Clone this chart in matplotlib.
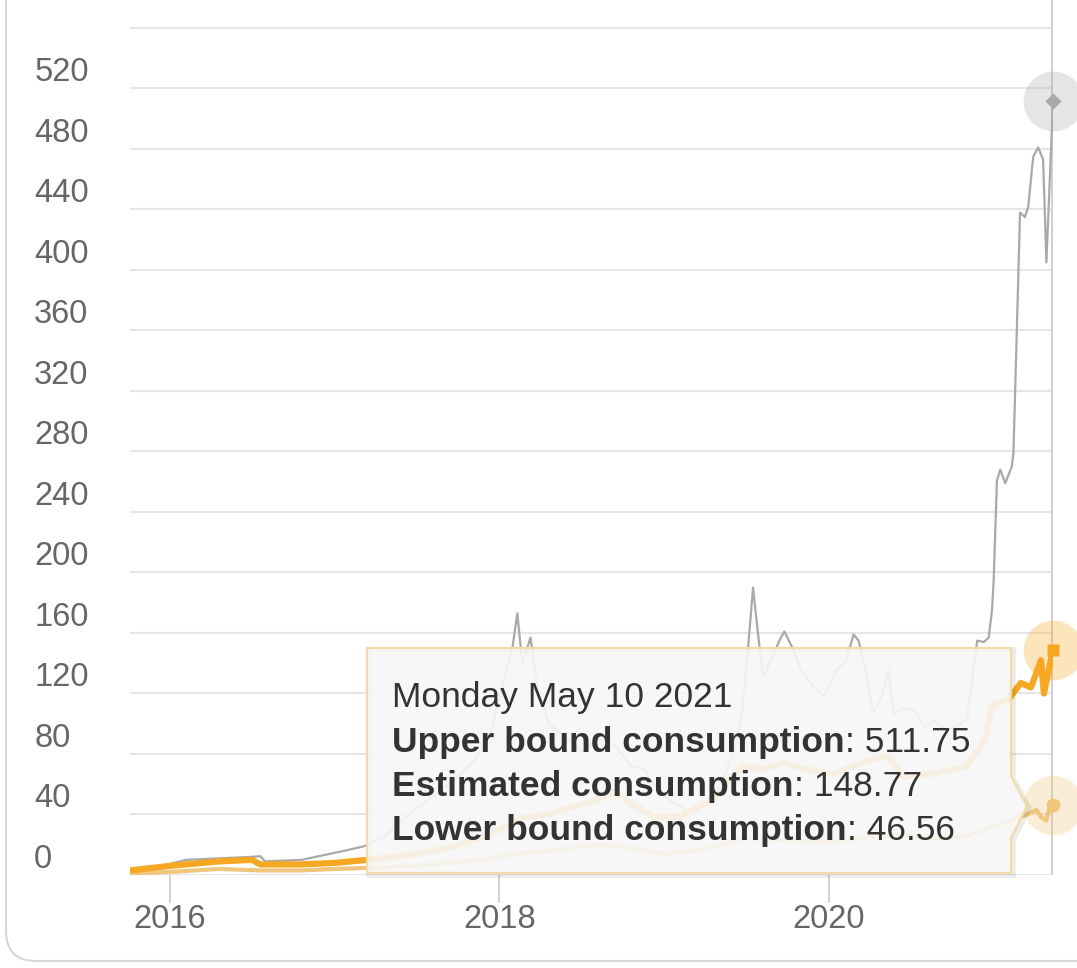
import matplotlib.pyplot as plt
from matplotlib.patches import Polygon, FancyBboxPatch
from matplotlib.transforms import IdentityTransform

# electricity consumption (TWh), dates as decimal years
upper_dates = [
    2015.76, 2015.95, 2016.10, 2016.30, 2016.50, 2016.55, 2016.58, 2016.80, 2017.06, 2017.18,
    2017.30, 2017.45, 2017.60, 2017.72, 2017.85, 2017.95, 2018.03, 2018.08, 2018.11, 2018.14,
    2018.17, 2018.19, 2018.23, 2018.30, 2018.40, 2018.50, 2018.60, 2018.70, 2018.80, 2018.88,
    2018.95, 2019.05, 2019.15, 2019.25, 2019.35, 2019.42, 2019.47, 2019.51, 2019.54, 2019.57,
    2019.60, 2019.65, 2019.70, 2019.73, 2019.78, 2019.83, 2019.90, 2019.97, 2020.05, 2020.10,
    2020.15, 2020.18, 2020.21, 2020.27, 2020.32, 2020.36, 2020.39, 2020.45, 2020.52, 2020.58,
    2020.64, 2020.72, 2020.80, 2020.84, 2020.87, 2020.90, 2020.94, 2020.97, 2020.99, 2021.00,
    2021.02, 2021.04, 2021.07, 2021.11, 2021.12, 2021.14, 2021.16, 2021.19, 2021.21, 2021.24,
    2021.27, 2021.30, 2021.32, 2021.36,
]
upper_values = [
    3, 6, 10, 11, 12, 12.5, 9, 10, 16, 19,
    25, 40, 52, 62, 76, 95, 130, 150, 173, 140,
    150, 157, 125, 100, 92, 82, 90, 86, 72, 70,
    58, 48, 42, 48, 60, 82, 104, 150, 190, 160,
    131, 142, 155, 161, 150, 136, 125, 118, 136, 140,
    159, 155, 142, 107, 118, 136, 107, 110, 109, 98,
    102, 95, 100, 104, 130, 155, 154, 157, 175, 195,
    261, 268, 259, 270, 279, 358, 438, 435, 442, 475,
    481, 473, 405, 511.75,
]

est_dates = [
    2015.76, 2016.00, 2016.30, 2016.50, 2016.55, 2016.80, 2017.00, 2017.20, 2017.35, 2017.50,
    2017.70, 2017.90, 2018.00, 2018.15, 2018.30, 2018.45, 2018.60, 2018.70, 2018.80, 2018.95,
    2019.10, 2019.30, 2019.47, 2019.60, 2019.73, 2019.85, 2020.03, 2020.15, 2020.25, 2020.36,
    2020.45, 2020.64, 2020.84, 2020.95, 2020.99, 2021.09, 2021.165, 2021.226, 2021.287, 2021.305,
    2021.347, 2021.36,
]
est_values = [
    3, 6, 9, 10, 7, 7, 8, 10, 12, 14,
    18, 25, 30, 38, 40, 45, 50, 55, 47, 38,
    39, 50, 72, 70, 74, 70, 67, 72, 76, 79,
    65, 67, 72, 90, 112, 116, 127, 124, 142, 120,
    142, 148.77,
]

lower_dates = [
    2015.76, 2016.00, 2016.30, 2016.55, 2016.80, 2017.00, 2017.30, 2017.60, 2017.90, 2018.10,
    2018.30, 2018.60, 2018.80, 2019.00, 2019.20, 2019.50, 2019.75, 2020.00, 2020.25, 2020.40,
    2020.65, 2020.85, 2021.00, 2021.10, 2021.20, 2021.26, 2021.29, 2021.32, 2021.34, 2021.36,
]
lower_values = [
    1, 2, 4, 3, 3, 4, 5, 7, 10, 14,
    16, 20, 18, 14, 16, 24, 23, 22, 25, 27,
    24, 26, 32, 36, 40, 43, 38, 36, 45, 46.56,
]

series_names = ["Upper bound consumption", "Estimated consumption", "Lower bound consumption"]
tooltip_date = "Monday May 10 2021"
year_ticks = [2016, 2018, 2020]
y_ticks = list(range(0, 561, 40))

UPPER = '#a9a9a9'
EST = '#f7a823'
LOWER = '#f0c67c'
TEXT = '#333333'

W, H = 1077, 968
plt.rcParams['font.family'] = ['Liberation Sans', 'DejaVu Sans']

fig = plt.figure(figsize=(W / 100, H / 100), dpi=100)
ax = fig.add_axes([130 / W, 1 - 875 / H, 923 / W, 875 / H])


def fpos(x, y):
    # pixel position measured from top-left -> figure fraction
    return x / W, 1 - y / H


ax.plot(upper_dates, upper_values, color=UPPER, lw=1.6, zorder=3)
ax.plot(lower_dates, lower_values, color=LOWER, lw=3, zorder=4)
ax.plot(est_dates, est_values, color=EST, lw=4.5, zorder=5, solid_joinstyle='round')

# crosshair on the hovered date
ax.axvline(upper_dates[-1], color='#cfcfcf', lw=2.8, zorder=2)

# hover halos and markers
hover = [
    (upper_dates[-1], upper_values[-1], UPPER, 'D', 8),
    (est_dates[-1], est_values[-1], EST, 's', 9),
    (lower_dates[-1], lower_values[-1], LOWER, 'o', 10),
]
for d, v, c, m, ms in hover:
    ax.plot([d], [v], 'o', ms=43, color=c, alpha=0.3, mec='none', clip_on=False, zorder=6)
    ax.plot([d], [v], m, ms=ms, color=c, mec='none', clip_on=False, zorder=7)

ax.set_xlim(2015.76, upper_dates[-1])
ax.set_ylim(0, 578.5)

ax.set_yticks(y_ticks)
ax.set_yticklabels([str(v) if v <= 520 else '' for v in y_ticks], ha='left', va='bottom')
ax.set_xticks(year_ticks)
ax.set_xticklabels([str(y) for y in year_ticks])
ax.tick_params(axis='y', length=0, pad=69, labelsize=23.5, labelcolor='#666666')
ax.tick_params(axis='x', length=20, width=1.2, color='#cccccc', pad=1,
               labelsize=23.5, labelcolor='#666666')
ax.yaxis.grid(True, color='#e6e6e6', lw=1.5)
ax.set_axisbelow(True)
for s in ax.spines.values():
    s.set_visible(False)

# tooltip
tip = [fpos(367, 648), fpos(1011, 648), fpos(1011, 776), fpos(1027, 806),
       fpos(1011, 838), fpos(1011, 873), fpos(367, 873)]
shadow = Polygon([(x + 2 / W, y - 2 / H) for x, y in tip], closed=True,
                 transform=fig.transFigure, fc='none', ec='black', alpha=0.08,
                 lw=4, zorder=9, clip_on=False)
ax.add_patch(shadow)
box = Polygon(tip, closed=True, transform=fig.transFigure, fc=(0.97, 0.97, 0.97, 0.9),
              ec='#f1dca8', lw=1.6, zorder=10, clip_on=False)
ax.add_patch(box)

ax.text(*fpos(392, 707), tooltip_date, transform=fig.transFigure, fontsize=25.5,
        color=TEXT, va='baseline', zorder=11)
end_values = [upper_values[-1], est_values[-1], lower_values[-1]]
for i, (name, val) in enumerate(zip(series_names, end_values)):
    t = ax.text(*fpos(392, 752 + i * 44), name, transform=fig.transFigure, fontsize=25.5,
                weight='bold', color=TEXT, va='baseline', zorder=11)
    ax.annotate(f': {val:.2f}', xy=(1, 0), xycoords=t, va='bottom', ha='left',
                fontsize=25.5, color=TEXT, zorder=11, annotation_clip=False)

# card border around the chart
card = FancyBboxPatch((6, 7), 1300, 1100, boxstyle='round,pad=0,rounding_size=30',
                      transform=IdentityTransform(), fc='none', ec='#d6d6d6', lw=1.5)
fig.add_artist(card)

fig.savefig('out.png', dpi=100)
